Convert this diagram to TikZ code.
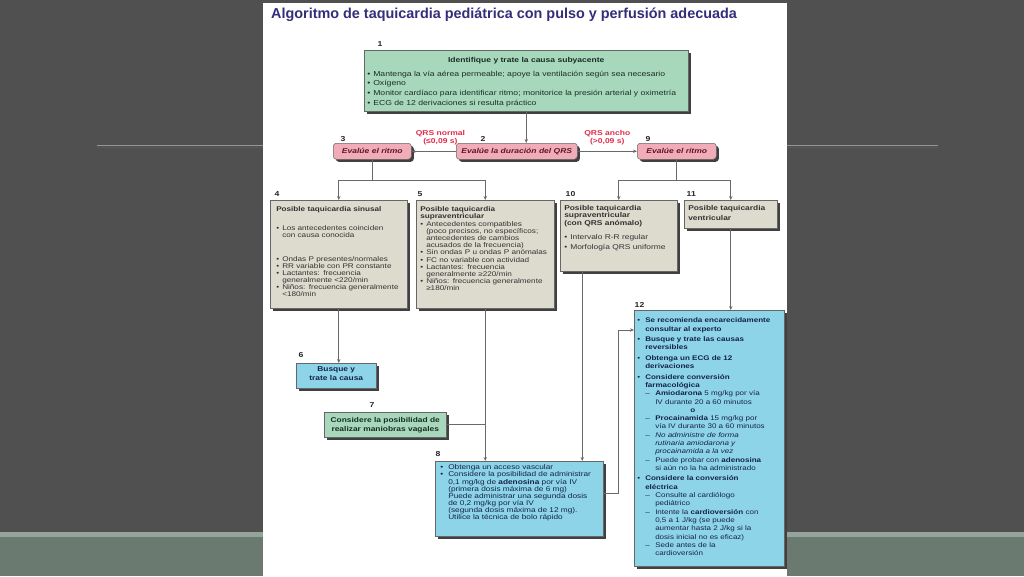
\documentclass[tikz,border=0pt]{standalone}
\usepackage{fontspec}
\setmainfont{Liberation Sans}
\newfontfamily\boxfont[FakeStretch=1.2]{Liberation Sans}
\usepackage{tikz}
\usetikzlibrary{arrows.meta,positioning,shadows}

\definecolor{bgdark}{RGB}{80,80,80}
\definecolor{stripe}{RGB}{148,164,154}
\definecolor{bgfoot}{RGB}{106,122,112}
\definecolor{linegray}{RGB}{150,150,150}
\definecolor{titleblue}{RGB}{52,46,122}
\definecolor{boxgreen}{RGB}{168,216,188}
\definecolor{boxgray}{RGB}{221,219,205}
\definecolor{boxblue}{RGB}{142,212,232}
\definecolor{boxpink}{RGB}{240,172,184}
\definecolor{txtgreen}{RGB}{25,45,35}
\definecolor{txtgray}{RGB}{50,50,50}
\definecolor{txtblue}{RGB}{20,35,70}
\definecolor{txtpink}{RGB}{90,25,35}
\definecolor{qrsred}{RGB}{225,45,75}
\definecolor{lngray}{RGB}{105,105,105}

% bullet and dash items with hanging indent
\newcommand{\bitem}[1][6pt]{\hangindent=#1\hangafter=1\noindent\makebox[#1][l]{\textbullet}}
\newcommand{\ditem}{\hangindent=18pt\hangafter=1\noindent\hspace*{8pt}\makebox[10pt][l]{\textendash}}

\begin{document}
\begin{tikzpicture}[
  x=1pt, y=-1pt,
  box/.style={draw=black!60, line width=0.5pt, anchor=north west, inner ysep=0pt, align=left,
    drop shadow={shadow xshift=2.5pt, shadow yshift=-2.5pt, fill=black!75, opacity=1}},
  gbox/.style={box, fill=boxgreen, text=txtgreen},
  ybox/.style={box, fill=boxgray, text=txtgray, font=\boxfont\fontsize{6.8}{7.2}\selectfont},
  cbox/.style={box, fill=boxblue, text=txtblue, font=\boxfont\fontsize{6.9}{7.15}\selectfont},
  pbox/.style={box, fill=boxpink, rounded corners=3pt, text=txtpink, inner xsep=0pt, align=center,
    text height=10.5pt, text depth=5.5pt, font=\boxfont\fontsize{7.1}{8}\selectfont\bfseries\itshape},
  num/.style={inner sep=0.5pt, text=black!85, font=\boxfont\fontsize{7.2}{8}\selectfont\bfseries},
  qrs/.style={inner sep=0pt, align=center, text=qrsred, font=\boxfont\fontsize{7.1}{8}\selectfont\bfseries},
  ln/.style={draw=lngray, line width=0.8pt},
  arr/.style={ln, -{Stealth[length=4pt, width=3.4pt]}}
]
  % slide background and page
  \fill[bgdark] (0,0) rectangle (1024,576);
  \fill[stripe] (0,532) rectangle (1024,537);
  \fill[bgfoot] (0,537) rectangle (1024,576);
  \draw[line width=1pt, black!65] (97,147.8) -- (938,147.8);
  \draw[line width=1.8pt, linegray] (97,145.5) -- (938,145.5);
  \fill[white] (263,3) rectangle (787,576);
  \useasboundingbox (0,0) rectangle (1024,576);

  \node[anchor=base west, inner sep=0pt, text=titleblue, font=\fontsize{14.4}{16}\selectfont\bfseries] (title) at (271,18.5)
    {Algoritmo de taquicardia pediátrica con pulso y perfusión adecuada};

  % boxes
  \node[gbox, text width=318pt, inner xsep=3pt, text height=12pt, text depth=49pt,
    font=\boxfont\fontsize{7.2}{9.7}\selectfont] (b1) at (364,50) {%
    {\centering\bfseries\fontsize{7.1}{9.7}\selectfont Identifique y trate la causa subyacente\par}\vspace{4.3pt}
    \bitem Mantenga la vía aérea permeable; apoye la ventilación según sea necesario\par
    \bitem Oxígeno\par
    \bitem Monitor cardíaco para identificar ritmo; monitorice la presión arterial y oximetría\par
    \bitem ECG de 12 derivaciones si resulta práctico\par};

  \node[pbox, minimum width=121pt] (b2) at (456,143) {Evalúe la duración del QRS};
  \node[pbox, minimum width=78pt] (b3) at (333,143) {Evalúe el ritmo};
  \node[pbox, minimum width=79pt] (b9) at (637,143) {Evalúe el ritmo};

  \node[ybox, text width=125pt, inner xsep=6pt, text height=11.5pt, text depth=96.5pt,
    font=\boxfont\fontsize{6.8}{7}\selectfont] (b4) at (270,200) {%
    \textbf{Posible taquicardia sinusal}\par\vspace{12pt}
    \bitem Los antecedentes coinciden\newline con causa conocida\par\vspace{17pt}
    \bitem Ondas P presentes/normales\par
    \bitem RR variable con PR constante\par
    \bitem Lactantes: frecuencia\newline generalmente <220/min\par
    \bitem Niños: frecuencia generalmente\newline <180/min\par};

  \node[ybox, text width=130pt, inner xsep=4pt, text height=11.5pt, text depth=96.5pt] (b5) at (416,200) {%
    \textbf{Posible taquicardia\newline supraventricular}\par
    \bitem Antecedentes compatibles\newline (poco precisos, no específicos;\newline antecedentes de cambios\newline acusados de la frecuencia)\par
    \bitem Sin ondas P u ondas P anómalas\par
    \bitem FC no variable con actividad\par
    \bitem Lactantes: frecuencia\newline generalmente ≥220/min\par
    \bitem Niños: frecuencia generalmente\newline ≥180/min\par};

  \node[ybox, text width=109pt, inner xsep=4pt, text height=10.5pt, text depth=60.5pt,
    font=\boxfont\fontsize{7}{7.2}\selectfont] (b10) at (560,200) {%
    \textbf{Posible taquicardia\newline supraventricular\newline (con QRS anómalo)}\par\vspace{6.8pt}
    \bitem Intervalo R-R regular\par\vspace{2.8pt}
    \bitem Morfología QRS uniforme\par};

  \node[ybox, text width=85pt, inner xsep=4pt, text height=10.5pt, text depth=17.5pt,
    font=\boxfont\fontsize{7}{10}\selectfont\bfseries] (b11) at (684,200) {Posible taquicardia\newline ventricular};

  \node[cbox, text width=76pt, inner xsep=2pt, text height=8.5pt, text depth=16.5pt, align=center,
    font=\boxfont\fontsize{7}{9}\selectfont\bfseries] (b6) at (296,363) {Busque y\\trate la causa};

  \node[gbox, text width=118pt, inner xsep=2pt, text height=10.5pt, text depth=14.5pt, align=center,
    font=\boxfont\fontsize{7}{9}\selectfont\bfseries] (b7) at (324,412) {Considere la posibilidad de\\realizar maniobras vagales};

  \node[cbox, text width=158pt, inner xsep=5pt, text height=8.5pt, text depth=66.5pt] (b8) at (435,461) {%
    \bitem[8pt]Obtenga un acceso vascular\par
    \bitem[8pt]Considere la posibilidad de administrar\newline 0,1 mg/kg de \textbf{adenosina} por vía IV\newline
    (primera dosis máxima de 6 mg)\newline Puede administrar una segunda dosis\newline de 0,2 mg/kg por vía IV\newline
    (segunda dosis máxima de 12 mg).\newline Utilice la técnica de bolo rápido\par};

  \node[cbox, text width=144pt, inner xsep=3pt, text height=12.5pt, text depth=243.5pt,
    font=\boxfont\fontsize{6.7}{8.3}\selectfont] (b12) at (634,310) {%
    \bitem[8pt]\textbf{Se recomienda encarecidamente\newline consultar al experto}\par\vspace{2.2pt}
    \bitem[8pt]\textbf{Busque y trate las causas\newline reversibles}\par\vspace{2.2pt}
    \bitem[8pt]\textbf{Obtenga un ECG de 12\newline derivaciones}\par\vspace{2.2pt}
    \bitem[8pt]\textbf{Considere conversión\newline farmacológica}\par
    \ditem\textbf{Amiodarona} 5 mg/kg por vía\newline IV durante 20 a 60 minutos\par
    \noindent\hspace*{53pt}\textbf{o}\par
    \ditem\textbf{Procainamida} 15 mg/kg por\newline vía IV durante 30 a 60 minutos\par
    \ditem\textit{No administre de forma\newline rutinaria amiodarona y\newline procainamida a la vez}\par
    \ditem Puede probar con \textbf{adenosina}\newline si aún no la ha administrado\par\vspace{2.2pt}
    \bitem[8pt]\textbf{Considere la conversión\newline eléctrica}\par
    \ditem Consulte al cardiólogo\newline pediátrico\par
    \ditem Intente la \textbf{cardioversión} con\newline 0,5 a 1 J/kg (se puede\newline aumentar hasta 2 J/kg si la\newline dosis inicial no es eficaz)\par
    \ditem Sede antes de la\newline cardioversión\par};

  % step numbers
  \node[num, above right=2.5pt and 13pt of b1.north west] (n1) {1};
  \node[num, above right=0.5pt and 24pt of b2.north west] (n2) {2};
  \node[num, above right=0.5pt and 7pt of b3.north west] (n3) {3};
  \node[num, above right=0.5pt and 8pt of b9.north west] (n9) {9};
  \node[num, above right=2.5pt and 4pt of b4.north west] (n4) {4};
  \node[num, above right=2.5pt and 1pt of b5.north west] (n5) {5};
  \node[num, above right=2.5pt and 5pt of b10.north west] (n10) {10};
  \node[num, above right=2.5pt and 2pt of b11.north west] (n11) {11};
  \node[num, above right=5pt and 2pt of b6.north west] (n6) {6};
  \node[num, above right=4pt and 45pt of b7.north west] (n7) {7};
  \node[num, above right=4pt and 0pt of b8.north west] (n8) {8};
  \node[num, above right=2pt and 0pt of b12.north west] (n12) {12};

  % connectors
  \coordinate[left=36.5pt of b10.south] (o10);
  \coordinate[above=5.5pt of b8.east] (o8);
  \coordinate[below=20pt of b12.north west] (i12);

  \draw[arr] (b1.south) -- (b1.south |- b2.north);
  \draw[arr] (b2.west) -- node[qrs, above=6pt, pos=0.35] (qn) {QRS normal\\(≤0,09 s)} (b3.east);
  \draw[arr] (b2.east) -- node[qrs, above=6pt] (qa) {QRS ancho\\(>0,09 s)} (b9.west);
  \draw[ln] (b3.south) -- ++(0,21) coordinate (j3);
  \draw[arr] (j3) -| (b4.north);
  \draw[arr] (j3) -| (b5.north);
  \draw[ln] (b9.south) -- ++(0,21) coordinate (j9);
  \draw[arr] (j9) -| (b10.north);
  \draw[arr] (j9) -| (b11.north);
  \draw[arr] (b4.south) -- (b4.south |- b6.north);
  \draw[arr] (b5.south) -- (b5.south |- b8.north);
  \draw[ln] (b7.east) -- (b7.east -| b5.south);
  \draw[arr] (o10) -- (o10 |- b8.north);
  \draw[arr] (o8) -- ++(15,0) |- (i12);
  \draw[arr] (b11.south) -- (b11.south |- b12.north);
\end{tikzpicture}
\end{document}
